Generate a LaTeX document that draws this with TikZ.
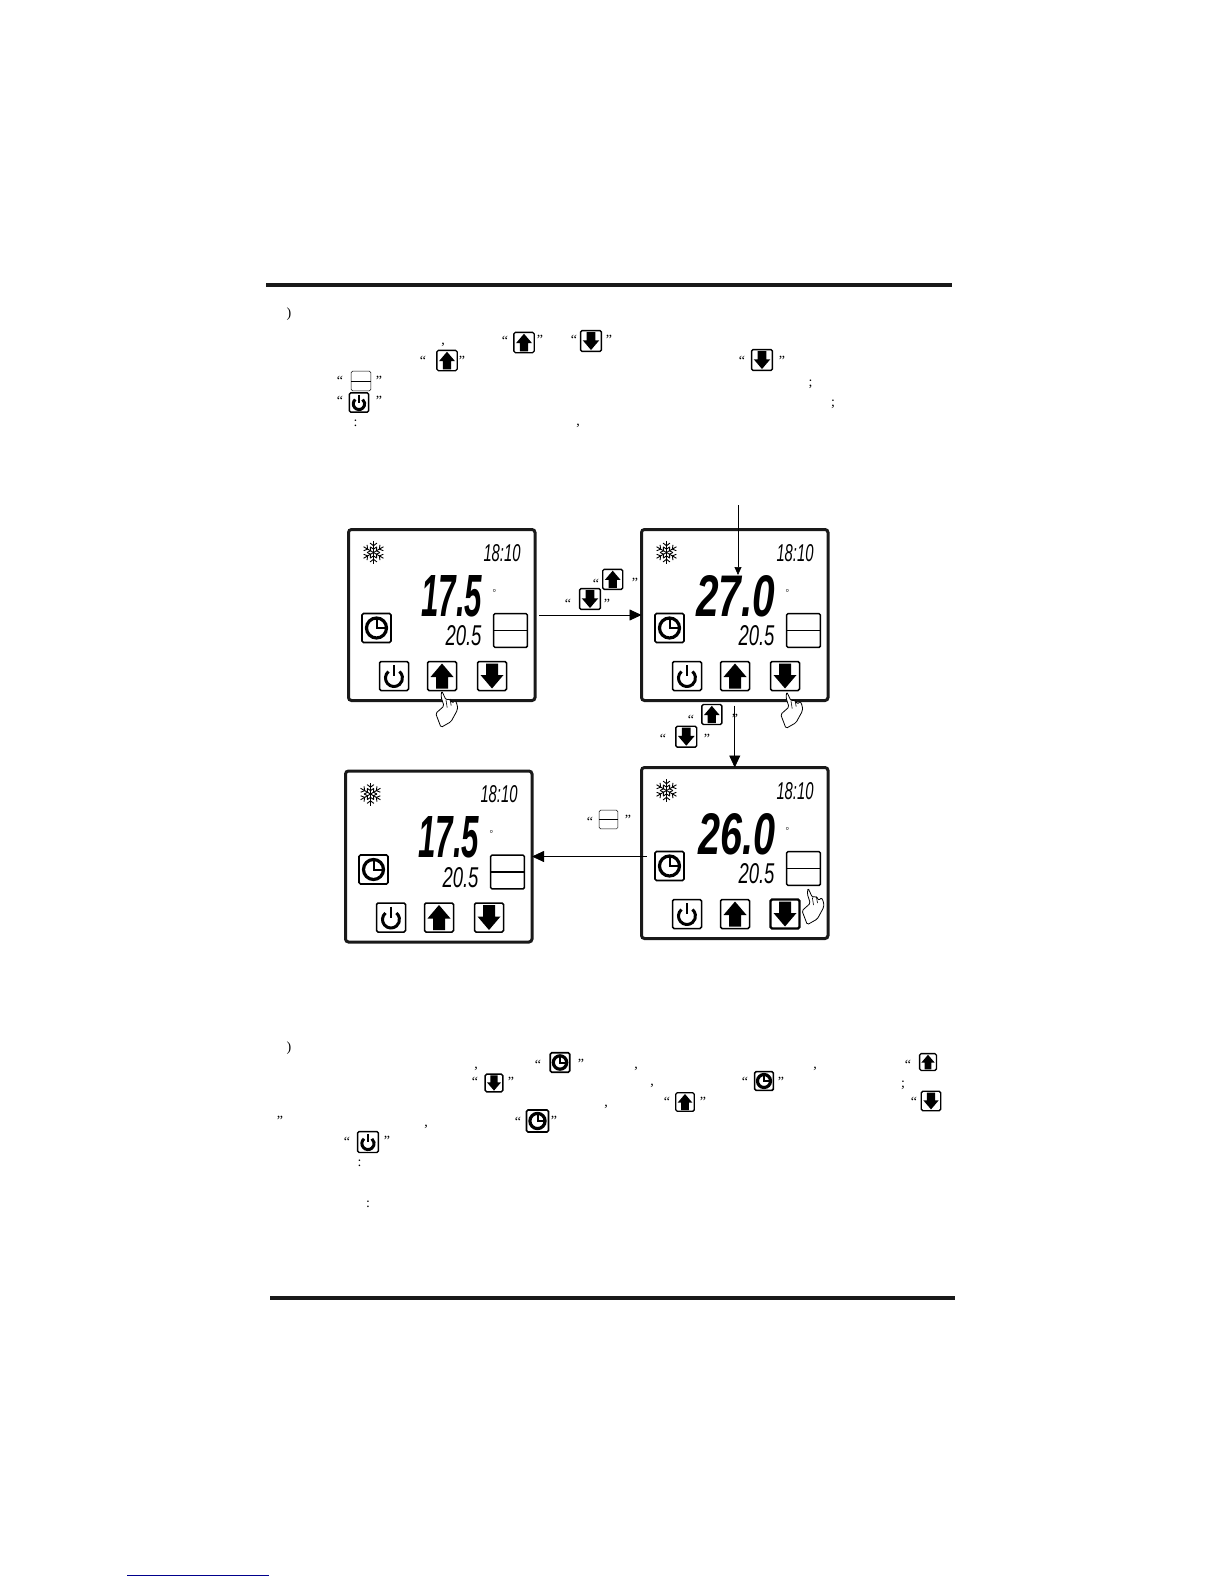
\documentclass[tikz,border=0pt]{standalone}
\usepackage{fontspec}
\usepackage{graphicx}
\setmainfont{Liberation Serif}
\newfontfamily\lcdfont{Liberation Sans}
\usetikzlibrary{arrows.meta}

\tikzset{
  rule/.style={fill=black!90},
  panelbox/.style={draw=black!90,line width=3pt,rounded corners=3pt,minimum width=186.5pt,minimum height=171pt,anchor=north west,outer sep=0pt},
  flowarrow/.style={draw=black,line width=0.8pt,-{Triangle[length=12pt,width=11pt]}},
  notearrow/.style={draw=black,line width=0.7pt,-{Triangle[length=8pt,width=7pt]}},
  quotemark/.style={font=\fontsize{14}{14}\selectfont,anchor=base,yshift=-8pt,inner sep=0pt},
  punct/.style={font=\fontsize{14}{14}\selectfont,anchor=base,inner sep=0pt},
  pics/keyup/.style={code={
    \draw[rounded corners=1.5pt] (-14.5,-14.5) rectangle (14.5,14.5);
    \fill (0,-12.5) -- (11.5,1) -- (6,1) -- (6,12.5) -- (-6,12.5) -- (-6,1) -- (-11.5,1) -- cycle;
  }},
  pics/keydown/.style={code={
    \draw[rounded corners=1.5pt] (-14.5,-14.5) rectangle (14.5,14.5);
    \fill (0,12.5) -- (11.5,-1) -- (6,-1) -- (6,-12.5) -- (-6,-12.5) -- (-6,-1) -- (-11.5,-1) -- cycle;
  }},
  pics/keypower/.style={code={
    \draw[rounded corners=1.5pt] (-14.5,-14.5) rectangle (14.5,14.5);
    \draw[line width=3pt] (-5.5,-4.5) arc[start angle=-130,end angle=-410,x radius=8.5,y radius=8.5];
    \draw[line width=2.8pt] (0,-11) -- (0,0);
  }},
  pics/keyclock/.style={code={
    \draw[rounded corners=1.5pt] (-14.5,-14.5) rectangle (14.5,14.5);
    \draw[line width=3.2pt] (0,0) circle (10);
    \draw[line width=2pt] (0,-10) -- (0,0) -- (10,0);
  }},
  pics/keymode/.style={code={
    \draw[rounded corners=1.5pt] (-14.5,-14.5) rectangle (14.5,14.5);
    \draw (-14.5,0) -- (14.5,0);
  }},
  pics/fingerhand/.style={code={
    \draw[fill=white,line width=0.8pt,line join=round,rounded corners=1.5pt] (0,0) -- (4.3,9.3) -- (8.3,8.3) -- (11,12.7) -- (13.3,9.3) -- (15.7,14.3) -- (15.7,19.3) -- (9.3,31) -- (-0.7,36.7) -- (-6,22.7) -- (2.3,15.3) -- (-0.7,6) -- cycle;
    \draw[line width=0.6pt] (4.3,9.3) -- (5.5,17) (8.3,8.3) -- (9.5,15);
  }},
  pics/snowflake/.style={code={
    \foreach \a in {30,90,...,330} {
      \begin{scope}[rotate=\a]
        \draw (0,0) -- (11.5,0);
        \draw (5.6,-3.2) -- (3.4,0) -- (5.6,3.2);
        \draw (9.4,-3.4) -- (6.8,0) -- (9.4,3.4);
      \end{scope}
    }
  }},
}

% one lcd screen: name, x, y, set temperature, its width, down key pen
\newcommand{\lcdscreen}[6]{
  \node[panelbox] (#1) at (#2,#3) {};
  \begin{scope}[shift={(#2,#3)}]
    \pic[line width=0.9pt] at (25,23) {snowflake};
    \node[inner sep=0pt] (#1time) at (153.5,23.5) {\resizebox{37pt}{17pt}{\lcdfont\itshape 18:10}};
    \node[inner sep=0pt,anchor=east] (#1set) at (134,66.5) {\resizebox{#5pt}{41pt}{\lcdfont\bfseries\itshape #4}};
    \node[inner sep=0pt,anchor=base,font=\fontsize{9}{9}\selectfont] (#1deg) at (146,65.5) {°};
    \node[inner sep=0pt] (#1room) at (115,106.5) {\resizebox{36pt}{20pt}{\lcdfont\itshape 20.5}};
    \pic[line width=1.7pt] at (28,98.5) {keyclock};
    \pic[line width=1.5pt,scale=1.17] at (162,101) {keymode};
    \pic[line width=1.5pt] at (45.5,146.5) {keypower};
    \pic[line width=1.5pt] at (93.5,146.5) {keyup};
    \pic[line width=#6pt] at (143.5,146.5) {keydown};
  \end{scope}
}

\begin{document}
\begin{tikzpicture}[x=1pt,y=-1pt]
  \useasboundingbox (0,0) rectangle (1224,1584);
  \fill[rule] (266,283) rectangle (951.5,287);
  \fill[rule] (270,1296) rectangle (955,1300);
  \draw[blue!55!black,line width=1pt] (127.3,1575) -- (269,1575);

  % upper text
  \node[punct] (topparen) at (289,317) {)};
  \foreach \x/\y in {505/337,574/336,423/357,742/357,340/377,340/397} {
    \node[quotemark] (open\x) at (\x,\y) {“};
  }
  \foreach \x/\y in {540/336,609/336,462/357,782/357,379/377,379/397} {
    \node[quotemark] (close\x) at (\x,\y) {”};
  }
  \node[punct] (commaA) at (443,344) {,};
  \node[punct] (commaB) at (578,425) {,};
  \node[punct] (semiA) at (810.5,386) {;};
  \node[punct] (semiB) at (833,406) {;};
  \node[punct] (colonA) at (355.5,426) {:};
  \pic[scale=0.7,line width=1.3pt] at (524,342.5) {keyup};
  \pic[scale=0.72,line width=1.5pt] at (591,341) {keydown};
  \pic[scale=0.7,line width=1.3pt] at (447,360.5) {keyup};
  \pic[scale=0.72,line width=1.5pt] at (762,360) {keydown};
  \pic[scale=0.68,line width=0.6pt] at (361,381) {keymode};
  \pic[scale=0.67,line width=1.5pt] at (359,402.5) {keypower};

  % screens
  \lcdscreen{panelA}{348.5}{529.5}{17.5}{61}{1.5}
  \lcdscreen{panelB}{641.5}{529.5}{27.0}{79}{1.5}
  \lcdscreen{panelC}{641.5}{767.5}{26.0}{77}{2.2}
  \lcdscreen{panelD}{345.5}{771}{17.5}{61}{1.5}

  \pic at (441.7,690.7) {fingerhand};
  \pic at (786.7,691.7) {fingerhand};
  \pic at (808,888) {fingerhand};

  % arrows
  \coordinate (noteB) at (738,505);
  \draw[flowarrow,shorten <=4pt] (panelA.east) -- (panelB.west);
  \draw[flowarrow,shorten <=5pt] (panelB.south) -- (panelC.north);
  \draw[flowarrow] ([xshift=5pt]panelC.west |- panelD.east) -- (panelD.east);
  \draw[notearrow] (noteB) -- (noteB |- panelBset.north);

  % arrow labels
  \foreach \x/\y in {596/580,568/600,691/716,663/735,590/818} {
    \node[quotemark] (labelopen\x) at (\x,\y) {“};
  }
  \foreach \x/\y in {635/579,607/600,735/715,707/735,628/816} {
    \node[quotemark] (labelclose\x) at (\x,\y) {”};
  }
  \pic[scale=0.69,line width=1.4pt] at (612.7,579.3) {keyup};
  \pic[scale=0.72,line width=1.4pt] at (590,599) {keydown};
  \pic[scale=0.69,line width=1.4pt] at (711.8,714.5) {keyup};
  \pic[scale=0.72,line width=1.4pt] at (686.3,736.7) {keydown};
  \pic[scale=0.65,line width=0.5pt] at (608.5,819.5) {keymode};

  % lower text
  \node[punct] (lowparen) at (289,1051) {)};
  \foreach \x/\y in {538/1061,908/1061,475/1078,745/1078,667/1098,914/1098,518/1118,347/1138} {
    \node[quotemark] (open\x) at (\x,\y) {“};
  }
  \foreach \x/\y in {581/1060,511/1078,781/1078,703/1098,280/1117,554/1117,387/1137} {
    \node[quotemark] (close\x) at (\x,\y) {”};
  }
  \foreach \x/\y in {476/1068,636/1068,815/1068,652/1085,606/1106,426/1126} {
    \node[punct] (comma\x) at (\x,\y) {,};
  }
  \node[punct] (semiC) at (903,1087) {;};
  \node[punct] (colonB) at (359.5,1166.5) {:};
  \node[punct] (colonC) at (368,1207) {:};
  \pic[scale=0.67,line width=1.6pt] at (560,1062.5) {keyclock};
  \pic[scale=0.58,line width=1.3pt] at (928,1062) {keyup};
  \pic[scale=0.61,line width=1.4pt] at (494,1083) {keydown};
  \pic[scale=0.65,line width=1.6pt] at (764,1081) {keyclock};
  \pic[scale=0.64,line width=1.3pt] at (685,1102) {keyup};
  \pic[scale=0.67,line width=1.4pt] at (931,1101) {keydown};
  \pic[scale=0.76,line width=1.6pt] at (537.5,1121) {keyclock};
  \pic[scale=0.72,line width=1.4pt] at (368,1142) {keypower};
\end{tikzpicture}
\end{document}
